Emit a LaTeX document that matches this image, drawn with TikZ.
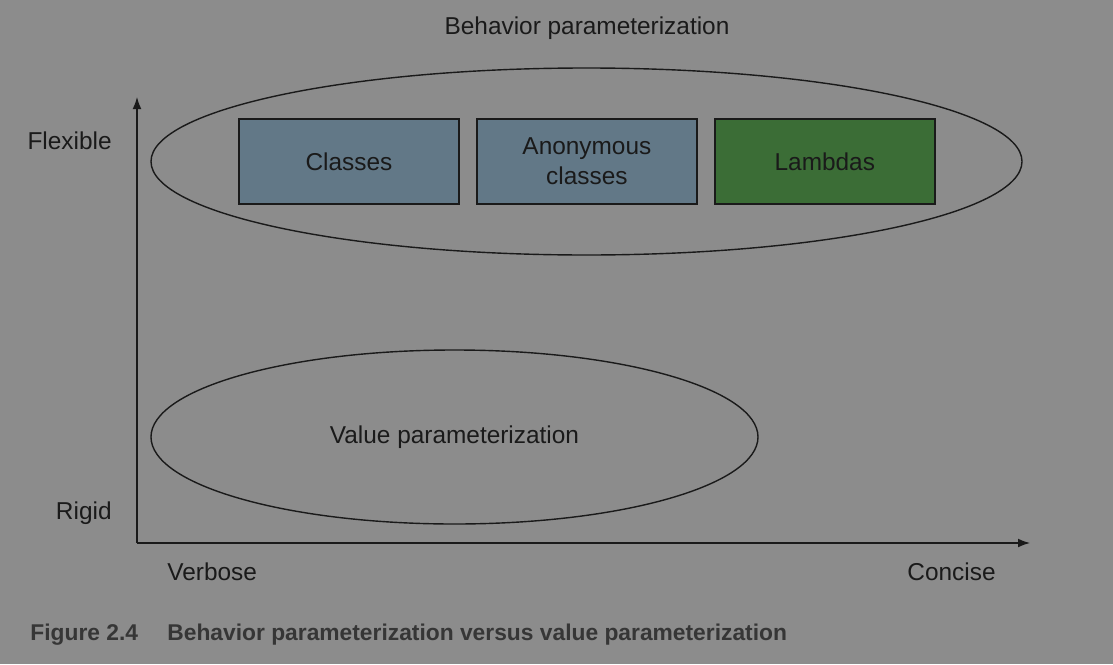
\documentclass[tikz,border=0pt]{standalone}
\usepackage{fontspec}
\setmainfont{Liberation Sans}
\usetikzlibrary{arrows.meta,positioning,shapes.geometric}
\definecolor{bgc}{HTML}{8C8C8C}
\definecolor{clsc}{HTML}{627887}
\definecolor{lamc}{HTML}{3B6D36}
\definecolor{inkc}{HTML}{1A1A1A}
\definecolor{capc}{HTML}{363636}
\newcommand{\lblfont}{\fontsize{12.2}{15}\selectfont}
\newcommand{\capfont}{\fontsize{11.4}{13}\selectfont\bfseries}
\tikzset{
  box/.style={draw=inkc, line width=0.75pt, minimum width=110pt, minimum height=42.5pt, inner sep=0pt, align=center, font=\lblfont, text=inkc},
  ring/.style={draw=inkc, line width=0.7pt, ellipse, inner sep=0pt},
  ax/.style={-{Latex[length=6pt,width=4.4pt]}, draw=inkc, line width=0.6pt},
  lbl/.style={font=\lblfont, text=inkc, inner sep=0pt},
  figcap/.style={font=\capfont, text=capc, inner sep=0pt},
}

\begin{document}
\begin{tikzpicture}[x=0.5pt, y=-0.5pt]
  \fill[bgc] (0,0) rectangle (1113,664);
  \node[lbl] (title) at (587,28) {Behavior parameterization};
  % behaviour ellipse and its three boxes
  \node[ring, minimum width=435.5pt, minimum height=93.5pt] (beh) at (586.5,161.5) {};
  \node[box, fill=clsc] (cls) at (349,161.5) {Classes};
  \node[box, fill=clsc, right=8.2pt of cls] (anon) {Anonymous\\classes};
  \node[box, fill=lamc, right=8.2pt of anon] (lam) {Lambdas};
  \node[ring, minimum width=303.5pt, minimum height=87pt, font=\lblfont, text=inkc] (val) at (454.5,437) {Value parameterization};
  % axes
  \coordinate (o) at (137,543);
  \coordinate (ytop) at (137,97);
  \coordinate (xend) at (1030,543);
  \draw[ax] (o) -- (ytop);
  \draw[ax] (o) -- (xend);
  \node[lbl, anchor=east] (flex) at (112,141) {Flexible};
  \node[lbl, anchor=east] (rig) at (112,513) {Rigid};
  \node[lbl, anchor=west] (verb) at (167,572) {Verbose};
  \node[lbl, anchor=east] (conc) at (996,572) {Concise};
  % caption
  \node[figcap, anchor=base west] (fig) at (30,640) {Figure 2.4};
  \node[figcap, anchor=base west] (captxt) at (167,640) {Behavior parameterization versus value parameterization};
\end{tikzpicture}
\end{document}
